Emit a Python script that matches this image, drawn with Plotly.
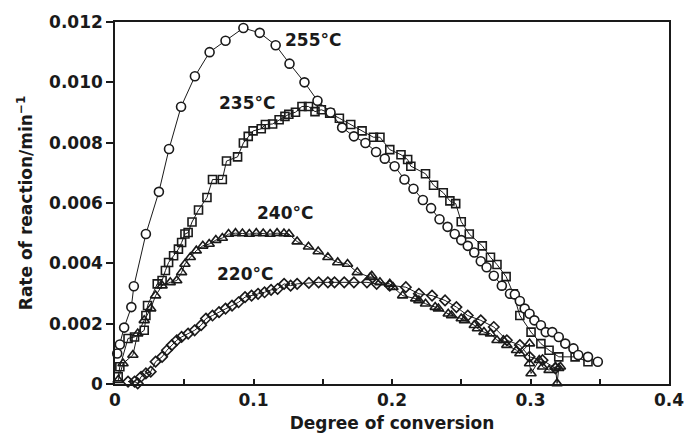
import plotly.graph_objects as go

# 255 °C (circles)
x255 = [0.0016, 0.0035, 0.0066, 0.0118, 0.0136, 0.0223, 0.0317, 0.0390, 0.0477, 0.0577,
        0.0683, 0.0798, 0.0927, 0.1045, 0.1160, 0.1260, 0.1368, 0.1462, 0.1556, 0.1640,
        0.1725, 0.1808, 0.1885, 0.1948, 0.2019, 0.2090, 0.2155, 0.2223, 0.2282, 0.2343,
        0.2401, 0.2453, 0.2500, 0.2547, 0.2594, 0.2641, 0.2683, 0.2735, 0.2793, 0.2852,
        0.2887, 0.2923, 0.2958, 0.2993, 0.3028, 0.3075, 0.3110, 0.3157, 0.3204, 0.3251,
        0.3310, 0.3345, 0.3415, 0.3486]
y255 = [0.00101, 0.00131, 0.00187, 0.00255, 0.00324, 0.00497, 0.00637, 0.00779, 0.00919, 0.01020,
        0.01100, 0.01138, 0.01180, 0.01164, 0.01123, 0.01062, 0.01000, 0.00939, 0.00900, 0.00850,
        0.00821, 0.00799, 0.00769, 0.00747, 0.00722, 0.00678, 0.00647, 0.00610, 0.00583, 0.00546,
        0.00521, 0.00497, 0.00477, 0.00458, 0.00436, 0.00407, 0.00387, 0.00359, 0.00326, 0.00299,
        0.00297, 0.00275, 0.00250, 0.00233, 0.00211, 0.00195, 0.00172, 0.00172, 0.00156, 0.00134,
        0.00118, 0.00096, 0.00090, 0.00074]

# 235 °C (squares)
x235 = [0.0023, 0.0035, 0.0094, 0.0141, 0.0211, 0.0223, 0.0235, 0.0305, 0.0340, 0.0364,
        0.0387, 0.0423, 0.0458, 0.0481, 0.0505, 0.0528, 0.0556, 0.0603, 0.0664, 0.0704,
        0.0775, 0.0805, 0.0885, 0.0927, 0.0962, 0.0997, 0.1056, 0.1086, 0.1138, 0.1185,
        0.1227, 0.1255, 0.1303, 0.1350, 0.1397, 0.1444, 0.1490, 0.1550, 0.1620, 0.1702,
        0.1784, 0.1866, 0.1913, 0.1984, 0.2065, 0.2113, 0.2136, 0.2242, 0.2300, 0.2370,
        0.2418, 0.2460, 0.2500, 0.2558, 0.2652, 0.2711, 0.2758, 0.2824, 0.2876, 0.2923,
        0.3004, 0.3075, 0.3134, 0.3204, 0.3322, 0.3415]
y235 = [0.00024, 0.00057, 0.00151, 0.00156, 0.00178, 0.00227, 0.00260, 0.00332, 0.00343, 0.00376,
        0.00403, 0.00425, 0.00447, 0.00469, 0.00497, 0.00502, 0.00537, 0.00577, 0.00618, 0.00678,
        0.00678, 0.00739, 0.00753, 0.00799, 0.00821, 0.00839, 0.00846, 0.00860, 0.00862, 0.00876,
        0.00887, 0.00894, 0.00901, 0.00920, 0.00920, 0.00903, 0.00909, 0.00898, 0.00881, 0.00860,
        0.00839, 0.00818, 0.00818, 0.00777, 0.00760, 0.00744, 0.00722, 0.00697, 0.00659, 0.00634,
        0.00607, 0.00598, 0.00538, 0.00497, 0.00458, 0.00420, 0.00396, 0.00356, 0.00299, 0.00227,
        0.00172, 0.00134, 0.00112, 0.00090, 0.00090, 0.00074]

# 240 °C (triangles)
x240 = [0.0023, 0.0058, 0.0129, 0.0164, 0.0211, 0.0258, 0.0293, 0.0340, 0.0399, 0.0446,
        0.0481, 0.0505, 0.0544, 0.0587, 0.0634, 0.0680, 0.0728, 0.0775, 0.0820, 0.0870,
        0.0920, 0.0970, 0.1020, 0.1070, 0.1120, 0.1170, 0.1220, 0.1256, 0.1315, 0.1397,
        0.1467, 0.1537, 0.1608, 0.1679, 0.1749, 0.1843, 0.1854, 0.1913, 0.1984, 0.2007,
        0.2077, 0.2171, 0.2194, 0.2242, 0.2312, 0.2335, 0.2406, 0.2430, 0.2500, 0.2523,
        0.2594, 0.2617, 0.2664, 0.2711, 0.2758, 0.2805, 0.2829, 0.2899, 0.2923, 0.2993,
        0.2993, 0.3004, 0.3063, 0.3087, 0.3134, 0.3180, 0.3192, 0.3204, 0.3216]
y240 = [0.00013, 0.00068, 0.00096, 0.00167, 0.00211, 0.00250, 0.00293, 0.00326, 0.00337, 0.00343,
        0.00370, 0.00398, 0.00420, 0.00442, 0.00458, 0.00464, 0.00477, 0.00484, 0.00497, 0.00500,
        0.00499, 0.00497, 0.00500, 0.00499, 0.00497, 0.00500, 0.00499, 0.00497, 0.00472, 0.00455,
        0.00439, 0.00420, 0.00403, 0.00398, 0.00370, 0.00354, 0.00359, 0.00337, 0.00332, 0.00321,
        0.00293, 0.00283, 0.00277, 0.00266, 0.00255, 0.00250, 0.00233, 0.00227, 0.00217, 0.00211,
        0.00195, 0.00184, 0.00172, 0.00167, 0.00145, 0.00145, 0.00129, 0.00112, 0.00101, 0.00134,
        0.00068, 0.00035, 0.00079, 0.00057, 0.00046, 0.00057, 0.00002, 0.00052, 0.00057]

# 220 °C (diamonds)
x220 = [0.0094, 0.0141, 0.0164, 0.0188, 0.0223, 0.0258, 0.0293, 0.0340, 0.0375, 0.0410,
        0.0446, 0.0481, 0.0528, 0.0575, 0.0622, 0.0657, 0.0704, 0.0751, 0.0798, 0.0845,
        0.0892, 0.0939, 0.0986, 0.1033, 0.1080, 0.1127, 0.1174, 0.1221, 0.1268, 0.1315,
        0.1400, 0.1470, 0.1537, 0.1585, 0.1655, 0.1725, 0.1819, 0.1889, 0.1984, 0.2100,
        0.2194, 0.2289, 0.2383, 0.2465, 0.2547, 0.2641, 0.2735, 0.2829, 0.2923, 0.2993,
        0.3087, 0.3180]
y220 = [0.00008, 0.00008, 0.00002, 0.00024, 0.00035, 0.00041, 0.00074, 0.00090, 0.00112, 0.00129,
        0.00145, 0.00156, 0.00167, 0.00178, 0.00195, 0.00217, 0.00227, 0.00238, 0.00250, 0.00260,
        0.00271, 0.00288, 0.00293, 0.00299, 0.00304, 0.00312, 0.00315, 0.00332, 0.00326, 0.00332,
        0.00335, 0.00337, 0.00337, 0.00337, 0.00337, 0.00337, 0.00337, 0.00332, 0.00326, 0.00321,
        0.00299, 0.00293, 0.00277, 0.00255, 0.00227, 0.00211, 0.00189, 0.00145, 0.00129, 0.00090,
        0.00079, 0.00052]

labels = ["255°C", "235°C", "240°C", "220°C"]
label_x = [0.143, 0.095, 0.123, 0.094]
label_y = [0.01141, 0.0093, 0.00567, 0.00366]

xtick_vals = [0, 0.1, 0.2, 0.3, 0.4]
xtick_text = ["0", "0.1", "0.2", "0.3", "0.4"]
xminor_vals = [0.05, 0.15, 0.25, 0.35]
ytick_vals = [0, 0.002, 0.004, 0.006, 0.008, 0.010, 0.012]
ytick_text = ["0", "0.002", "0.004", "0.006", "0.008", "0.010", "0.012"]

INK = "#1a1a1a"
FONT = "DejaVu Sans"
BOLD = dict(family=FONT, size=17, color=INK, weight="bold")

fig = go.Figure()

def add(xs, ys, symbol, size, fill):
    fig.add_trace(go.Scatter(
        x=xs, y=ys, mode="lines+markers", cliponaxis=False,
        line=dict(color=INK, width=1),
        marker=dict(symbol=symbol, size=size, color=fill,
                    line=dict(color=INK, width=1.6)),
        showlegend=False))

add(x220, y220, "diamond-open", 8, INK)
add(x240, y240, "triangle-up-open", 9, INK)
add(x235, y235, "square-open", 8, INK)
add(x255, y255, "circle", 9, "white")

for t, ax_, ay_ in zip(labels, label_x, label_y):
    fig.add_annotation(x=ax_, y=ay_, text=t, showarrow=False, font=BOLD)

fig.update_layout(
    width=696, height=443,
    margin=dict(l=115, r=13, t=20, b=59),
    paper_bgcolor="white", plot_bgcolor="white",
    font=BOLD,
)
fig.update_xaxes(
    range=[0, 0.4], tickvals=xtick_vals, ticktext=xtick_text,
    ticks="inside", ticklen=5, tickwidth=1.5, tickcolor=INK,
    minor=dict(tickvals=xminor_vals, ticks="inside", ticklen=5, tickwidth=1.5, tickcolor=INK),
    ticklabeloverflow="allow",
    showline=True, linecolor=INK, linewidth=1.5, mirror=True,
    showgrid=False, zeroline=False,
    tickfont=BOLD,
    title=dict(text="Degree of conversion", standoff=8, font=BOLD),
)
fig.update_yaxes(
    range=[0, 0.012], tickvals=ytick_vals, ticktext=ytick_text,
    ticks="outside", ticklen=7, tickwidth=1.5, tickcolor=INK,
    ticklabeloverflow="allow",
    showline=True, linecolor=INK, linewidth=1.5, mirror=True,
    showgrid=False, zeroline=False,
    tickfont=BOLD,
    title=dict(text="Rate of reaction/min<sup>−1</sup>", standoff=12, font=BOLD),
)

fig.write_html(
    "out.html",
    config={"displayModeBar": False},
    post_script="document.body.style.margin='0';document.body.style.overflow='hidden';",
)
